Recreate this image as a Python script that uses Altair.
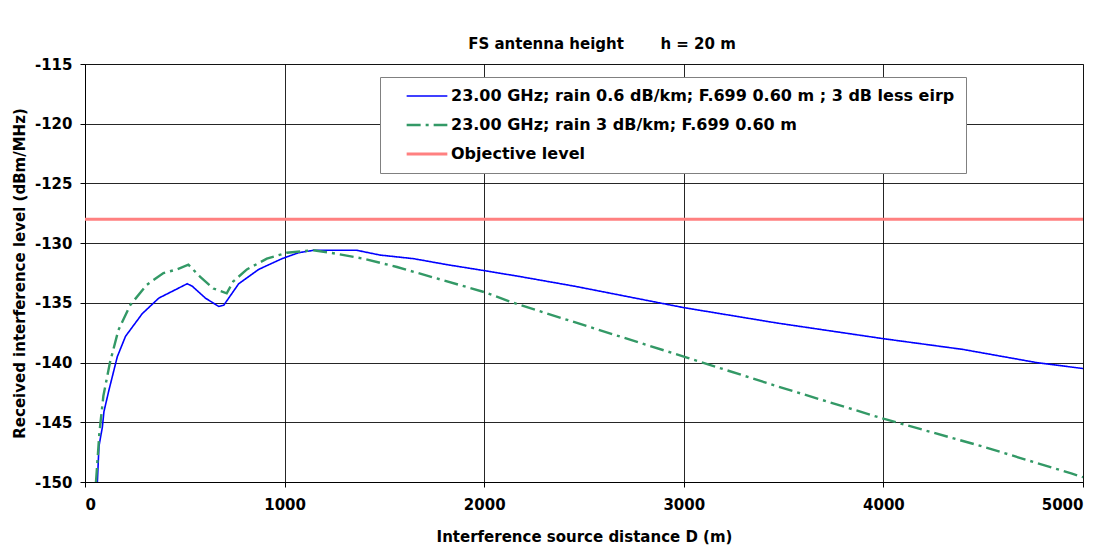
import altair as alt
import pandas as pd

# Series 1 (blue): 23.00 GHz; rain 0.6 dB/km; 3 dB less eirp
blue_d = [62, 70, 87, 95, 120, 162, 203, 287, 370, 453, 512, 537, 603, 670, 695, 720, 770, 870,
          987, 1070, 1145, 1362, 1479, 1646, 1813, 2000, 2180, 2451, 3000, 3471, 4000, 4399, 4767, 5000]
blue_v = [-150, -147, -145.4, -144.1, -142.3, -139.5, -137.8, -135.9, -134.6, -133.9, -133.4, -133.6,
          -134.6, -135.3, -135.2, -134.6, -133.4, -132.2, -131.3, -130.8, -130.6, -130.6, -131.0,
          -131.3, -131.8, -132.3, -132.8, -133.6, -135.4, -136.7, -138.0, -138.9, -140.0, -140.5]

# Series 2 (green): 23.00 GHz; rain 3 dB/km
green_d = [55, 72, 92, 125, 167, 226, 309, 393, 460, 518, 576, 643, 710, 743, 811, 911, 1011, 1144,
           1228, 1395, 1563, 1730, 1897, 2000, 2147, 2525, 3000, 3471, 4000, 4491, 4945, 5000]
green_v = [-150, -145.9, -142.8, -140.0, -137.3, -135.2, -133.5, -132.5, -132.2, -131.8, -132.8,
           -133.8, -134.2, -133.2, -132.2, -131.3, -130.8, -130.6, -130.8, -131.3, -132.0, -132.8,
           -133.6, -134.1, -135.0, -137.0, -139.5, -142.0, -144.7, -147.0, -149.3, -149.6]

# Objective level
obj_d = [0, 5000]
obj_v = [-128, -128]

S1 = "23.00 GHz; rain 0.6 dB/km; F.699 0.60 m ; 3 dB less eirp"
S2 = "23.00 GHz; rain 3 dB/km; F.699 0.60 m"
S3 = "Objective level"
series = [S1, S2, S3]

x_ticks = [0, 1000, 2000, 3000, 4000, 5000]
y_ticks = [-150, -145, -140, -135, -130, -125, -120, -115]

rows = []
for name, ds, vs in [(S1, blue_d, blue_v), (S2, green_d, green_v), (S3, obj_d, obj_v)]:
    for d, v in zip(ds, vs):
        rows.append({"D": d, "L": v, "s": name})
df = pd.DataFrame(rows)

FONT = "DejaVu Sans"

leg = dict(
    title=None,
    orient="none",
    legendX=295,
    legendY=13,
    direction="vertical",
    fillColor="white",
    strokeColor="#808080",
    padding=11,
    symbolType="M-3.7,0H3.7",
    symbolSize=121,
    symbolOffset=28,
    labelOffset=16,
    rowPadding=13,
    labelFont=FONT,
    labelFontSize=16,
    labelFontWeight="bold",
    labelColor="black",
    labelLimit=900,
)

chart = alt.Chart(df).mark_line(clip=True, strokeCap="butt").encode(
    x=alt.X("D:Q",
            scale=alt.Scale(domain=[0, 5000], nice=False),
            axis=alt.Axis(values=x_ticks, labelExpr="datum.value + ''",
                          title="Interference source distance D (m)",
                          labelPadding=10, titlePadding=17)),
    y=alt.Y("L:Q",
            scale=alt.Scale(domain=[-150, -115], nice=False),
            axis=alt.Axis(values=y_ticks, labelExpr="datum.value + ''",
                          title="Received interference level (dBm/MHz)",
                          labelPadding=8, titlePadding=7)),
    color=alt.Color("s:N",
                    scale=alt.Scale(domain=series, range=["#0000FF", "#339966", "#FF8080"]),
                    legend=alt.Legend(**leg)),
    strokeDash=alt.StrokeDash("s:N",
                              scale=alt.Scale(domain=series, range=[[1, 0], [14, 5, 3, 5], [1, 0]]),
                              legend=alt.Legend(**leg)),
    strokeWidth=alt.StrokeWidth("s:N",
                                scale=alt.Scale(domain=series, range=[1.6, 3.2, 5]),
                                legend=alt.Legend(**leg)),
).properties(
    width=998,
    height=418,
    padding={"left": 85, "top": 64, "right": 23, "bottom": 69},
    autosize=alt.AutoSizeParams(type="none"),
    background="white",
    title=alt.Title("FS antenna height\u00a0\u00a0\u00a0\u00a0\u00a0\u00a0\u00a0h = 20 m",
                    font=FONT, fontSize=15, fontWeight="bold", color="black",
                    anchor="middle", dx=18, offset=5),
).configure_view(
    stroke="#808080", strokeWidth=1
).configure_axis(
    labelFont=FONT, labelFontSize=15, labelFontWeight="bold", labelColor="black",
    titleFont=FONT, titleFontSize=15, titleFontWeight="bold", titleColor="black",
    grid=True, gridColor="#000000", gridWidth=1, gridOpacity=0.85,
    domainColor="#000000", domainWidth=1,
    tickColor="#000000", tickSize=5, tickWidth=1,
)

chart.save("out.html", embed_options={"renderer": "svg", "actions": False})
